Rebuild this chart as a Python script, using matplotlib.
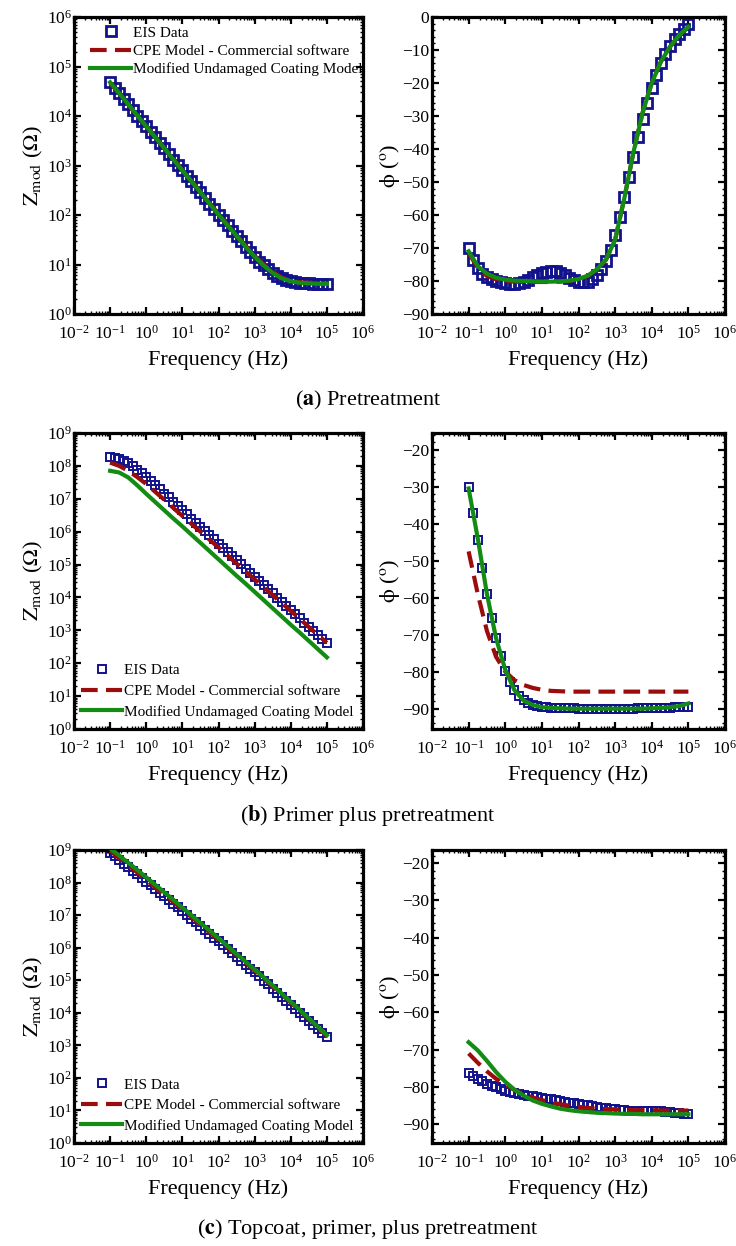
import matplotlib
matplotlib.use('Agg')
import matplotlib.pyplot as plt
import matplotlib.ticker as ticker
import numpy as np

plt.rcParams['font.family'] = ['Liberation Serif', 'DejaVu Serif']
plt.rcParams['mathtext.fontset'] = 'stix'
plt.rcParams['axes.unicode_minus'] = True

# EIS sweep: 8 points per decade, 0.1 Hz .. 100 kHz
freq_data = np.logspace(-1, 5, 49)
# fitted models are evaluated at 4 points per decade
freq_model = np.logspace(-1, 5, 25)

# ---- (a) Pretreatment ----
zmod_a_data = [4.68, 4.57, 4.46, 4.35, 4.24, 4.12, 4.01, 3.90, 3.79, 3.68, 3.57, 3.46, 3.35,
               3.23, 3.12, 3.01, 2.90, 2.79, 2.68, 2.57, 2.46, 2.34, 2.23, 2.12, 2.01, 1.90,
               1.79, 1.68, 1.58, 1.47, 1.36, 1.26, 1.16, 1.06, 0.98, 0.90, 0.83, 0.77, 0.72,
               0.69, 0.66, 0.65, 0.63, 0.62, 0.62, 0.61, 0.61, 0.61, 0.61]
zmod_a_cpe = [4.67, 4.45, 4.23, 4.01, 3.79, 3.57, 3.35, 3.13, 2.91, 2.69, 2.46, 2.24, 2.02,
              1.80, 1.59, 1.38, 1.18, 1.00, 0.85, 0.74, 0.67, 0.64, 0.63, 0.62, 0.62]
zmod_a_mucm = [4.68, 4.46, 4.24, 4.01, 3.79, 3.57, 3.35, 3.12, 2.90, 2.68, 2.46, 2.23, 2.01,
               1.79, 1.58, 1.36, 1.16, 0.98, 0.83, 0.72, 0.66, 0.63, 0.62, 0.61, 0.61]
phase_a_data = [-70.0, -73.5, -76.0, -77.8, -78.8, -79.5, -80.0, -80.4, -80.7, -80.8, -80.8,
                -80.6, -80.2, -79.6, -78.9, -78.2, -77.6, -77.2, -77.0, -77.1, -77.5, -78.2,
                -79.0, -79.7, -80.2, -80.4, -80.2, -79.5, -78.3, -76.5, -74.0, -70.5, -66.0,
                -60.5, -54.5, -48.5, -42.5, -36.5, -31.0, -26.0, -21.5, -17.5, -14.0, -11.2,
                -8.8, -6.8, -5.0, -3.5, -2.2]
phase_a_cpe = [-71.5, -76.0, -78.5, -79.5, -80.0, -80.2, -80.3, -80.3, -80.3, -80.3, -80.2,
               -80.0, -79.5, -78.5, -76.6, -73.6, -67.5, -55.0, -41.0, -29.0, -20.0, -13.5,
               -9.0, -5.6, -3.0]
phase_a_mucm = [-71.0, -75.5, -77.8, -79.0, -79.6, -79.9, -80.0, -80.1, -80.2, -80.2, -80.1,
                -79.9, -79.4, -78.4, -76.5, -73.5, -67.5, -55.0, -41.0, -29.0, -20.0, -13.5,
                -9.0, -5.5, -3.0]

# ---- (b) Primer plus pretreatment ----
zmod_b_data = [8.28, 8.25, 8.21, 8.16, 8.09, 7.99, 7.88, 7.78, 7.67, 7.54, 7.42, 7.29, 7.16,
               7.04, 6.91, 6.78, 6.65, 6.53, 6.40, 6.27, 6.15, 6.02, 5.89, 5.77, 5.64, 5.51,
               5.39, 5.26, 5.13, 5.01, 4.88, 4.75, 4.63, 4.50, 4.37, 4.25, 4.12, 3.99, 3.87,
               3.74, 3.61, 3.49, 3.36, 3.23, 3.11, 2.98, 2.85, 2.73, 2.60]
zmod_b_cpe = [8.10, 8.00, 7.85, 7.66, 7.45, 7.21, 6.97, 6.72, 6.48, 6.24, 6.00, 5.76, 5.52,
              5.28, 5.03, 4.79, 4.55, 4.31, 4.07, 3.83, 3.59, 3.35, 3.10, 2.86, 2.62]
zmod_b_mucm = [7.85, 7.80, 7.65, 7.41, 7.15, 6.90, 6.65, 6.40, 6.16, 5.91, 5.66, 5.41, 5.16,
               4.91, 4.66, 4.42, 4.17, 3.92, 3.67, 3.42, 3.17, 2.93, 2.68, 2.43, 2.18]
phase_b_data = [-30.0, -37.0, -44.5, -52.0, -59.0, -65.5, -71.0, -75.8, -79.8, -82.8, -85.0,
                -86.6, -87.7, -88.5, -89.0, -89.3, -89.5, -89.6, -89.7, -89.8, -89.8, -89.9,
                -89.9, -89.9, -90.0, -90.0, -90.0, -90.0, -90.0, -90.0, -90.0, -90.0, -90.0,
                -90.0, -90.0, -90.0, -90.0, -89.9, -89.9, -89.9, -89.8, -89.8, -89.8, -89.7,
                -89.7, -89.6, -89.6, -89.5, -89.5]
phase_b_cpe = [-47.5, -59.0, -69.0, -76.0, -80.0, -82.3, -83.6, -84.4, -84.9, -85.2, -85.3,
               -85.4, -85.4, -85.4, -85.4, -85.4, -85.4, -85.4, -85.4, -85.4, -85.4, -85.4,
               -85.4, -85.4, -85.4]
phase_b_mucm = [-30.5, -44.0, -59.0, -71.0, -79.5, -85.0, -87.8, -89.0, -89.6, -89.8, -89.9,
                -90.0, -90.0, -90.0, -90.0, -90.0, -90.0, -90.0, -90.0, -90.0, -89.9, -89.8,
                -89.6, -89.3, -88.6]

# ---- (c) Topcoat, primer, plus pretreatment ----
zmod_c_data = [8.92, 8.81, 8.70, 8.58, 8.47, 8.36, 8.25, 8.14, 8.02, 7.91, 7.80, 7.69, 7.58,
               7.46, 7.35, 7.24, 7.13, 7.01, 6.89, 6.78, 6.66, 6.54, 6.42, 6.30, 6.19, 6.07,
               5.95, 5.83, 5.71, 5.60, 5.48, 5.36, 5.24, 5.12, 4.99, 4.87, 4.74, 4.62, 4.50,
               4.37, 4.25, 4.12, 4.00, 3.88, 3.75, 3.63, 3.50, 3.38, 3.26]
zmod_c_cpe = [8.97, 8.75, 8.53, 8.31, 8.08, 7.85, 7.63, 7.40, 7.17, 6.94, 6.71, 6.47, 6.24,
              6.00, 5.77, 5.53, 5.29, 5.05, 4.80, 4.56, 4.31, 4.06, 3.80, 3.55, 3.29]
zmod_c_mucm = [9.05, 8.83, 8.61, 8.39, 8.16, 7.93, 7.70, 7.47, 7.23, 7.00, 6.76, 6.53, 6.29,
               6.05, 5.81, 5.57, 5.33, 5.09, 4.84, 4.59, 4.34, 4.09, 3.83, 3.57, 3.31]
phase_c_data = [-76.2, -77.0, -77.8, -78.5, -79.1, -79.6, -80.1, -80.6, -81.0, -81.3, -81.6,
                -81.9, -82.1, -82.3, -82.5, -82.7, -82.9, -83.1, -83.3, -83.6, -83.8, -84.0,
                -84.2, -84.4, -84.5, -84.7, -84.9, -85.1, -85.3, -85.5, -85.7, -85.9, -86.0,
                -86.1, -86.2, -86.3, -86.4, -86.5, -86.5, -86.5, -86.4, -86.3, -86.5, -86.7,
                -86.8, -86.9, -87.0, -87.1, -87.2]
phase_c_cpe = [-71.0, -73.5, -75.8, -77.8, -79.4, -80.8, -81.9, -82.8, -83.5, -84.1, -84.6,
               -85.0, -85.3, -85.6, -85.8, -85.9, -86.0, -86.1, -86.2, -86.2, -86.2, -86.3,
               -86.3, -86.3, -86.3]
phase_c_mucm = [-68.0, -70.2, -73.0, -76.0, -78.6, -80.7, -82.3, -83.6, -84.5, -85.2, -85.8,
                -86.2, -86.5, -86.7, -86.9, -87.0, -87.1, -87.2, -87.2, -87.3, -87.3, -87.3,
                -87.3, -87.3, -87.3]

labels = ['EIS Data', 'CPE Model - Commercial software', 'Modified Undamaged Coating Model']
captions = [r'($\mathbf{a}$) Pretreatment',
            r'($\mathbf{b}$) Primer plus pretreatment',
            r'($\mathbf{c}$) Topcoat, primer, plus pretreatment']

NAVY = '#12128c'
DARKRED = '#9b0c0c'
GREEN = '#148c14'

W, H = 736, 1246
fig = plt.figure(figsize=(W / 100, H / 100), dpi=100)


def add_axes_px(left, top, right, bottom):
    return fig.add_axes([left / W, 1 - bottom / H, (right - left) / W, (bottom - top) / H])


def style_axes(ax):
    ax.set_xscale('log')
    ax.set_xlim(1e-2, 1e6)
    ax.xaxis.set_major_locator(ticker.LogLocator(base=10, numticks=20))
    ax.xaxis.set_minor_locator(ticker.LogLocator(base=10, subs=np.arange(2, 10), numticks=20))
    ax.tick_params(which='both', direction='in', top=True, right=True)
    ax.tick_params(which='major', length=5, width=1.6, labelsize=12.5)
    ax.tick_params(which='minor', length=2.5, width=1.0)
    ax.tick_params(axis='x', which='major', pad=7.5)
    for sp in ax.spines.values():
        sp.set_linewidth(2.3)
    ax.set_xlabel('Frequency (Hz)', fontsize=16, labelpad=6)


def draw_panels(row, zdata, zcpe, zmucm, pdata, pcpe, pmucm, top, bottom,
                zmax, ph_lim, ph_ticks, big_markers, legend_top):
    ms, mew = (7.5, 2.0) if big_markers else (5.2, 1.4)
    data_style = dict(ls='none', marker='s', mfc='none', mec=NAVY, ms=ms, mew=mew, zorder=2)
    cpe_style = dict(color=DARKRED, lw=3.0, ls=(0, (4, 2)), zorder=3)
    mucm_style = dict(color=GREEN, lw=3.0, zorder=4)
    leg_style = dict(frameon=False, fontsize=11, handlelength=2.7, handletextpad=0.1,
                     borderaxespad=0, borderpad=0, numpoints=1)

    ax1 = add_axes_px(74, top, 363, bottom)
    style_axes(ax1)
    ax1.plot(freq_data, 10 ** np.array(zdata), label=labels[0], **data_style)
    ax1.plot(freq_model, 10 ** np.array(zcpe), label=labels[1], **cpe_style)
    ax1.plot(freq_model, 10 ** np.array(zmucm), label=labels[2], **mucm_style)
    ax1.set_yscale('log')
    ax1.set_ylim(1, 10 ** zmax)
    ax1.yaxis.set_major_locator(ticker.LogLocator(base=10, numticks=20))
    ax1.yaxis.set_minor_locator(ticker.LogLocator(base=10, subs=np.arange(2, 10), numticks=20))
    ax1.tick_params(axis='y', which='major', pad=1.5)
    ax1.set_ylabel(r'$\mathrm{Z}_{\mathrm{mod}}$ ($\Omega$)', fontsize=16, labelpad=1)
    if legend_top:
        ax1.legend(loc='upper left', bbox_to_anchor=(0.055, 0.97), labelspacing=0.3,
                   **leg_style)
    else:
        ax1.legend(loc='lower left', bbox_to_anchor=(0.025, 0.035), labelspacing=0.45,
                   **leg_style)

    ax2 = add_axes_px(432, top, 725, bottom)
    style_axes(ax2)
    ax2.plot(freq_data, pdata, **data_style)
    ax2.plot(freq_model, pcpe, **cpe_style)
    ax2.plot(freq_model, pmucm, **mucm_style)
    ax2.set_ylim(*ph_lim)
    ax2.set_yticks(ph_ticks)
    ax2.yaxis.set_minor_locator(ticker.MultipleLocator(2))
    ax2.tick_params(axis='y', which='major', pad=2)
    ax2.set_ylabel(r'$\mathrm{\phi}$ ($^{\rm o}$)', fontsize=16, labelpad=0)

    fig.text(0.5, 1 - (bottom + 86) / H, captions[row], ha='center', va='center', fontsize=16)


draw_panels(0, zmod_a_data, zmod_a_cpe, zmod_a_mucm, phase_a_data, phase_a_cpe, phase_a_mucm,
            17, 314, 6, (-90, 0), np.arange(-90, 1, 10), True, True)
draw_panels(1, zmod_b_data, zmod_b_cpe, zmod_b_mucm, phase_b_data, phase_b_cpe, phase_b_mucm,
            433, 729, 9, (-95.5, -15.5), np.arange(-90, -19, 10), False, False)
draw_panels(2, zmod_c_data, zmod_c_cpe, zmod_c_mucm, phase_c_data, phase_c_cpe, phase_c_mucm,
            850, 1143, 9, (-95, -16.5), np.arange(-90, -19, 10), False, False)

fig.savefig('out.png', dpi=100)
